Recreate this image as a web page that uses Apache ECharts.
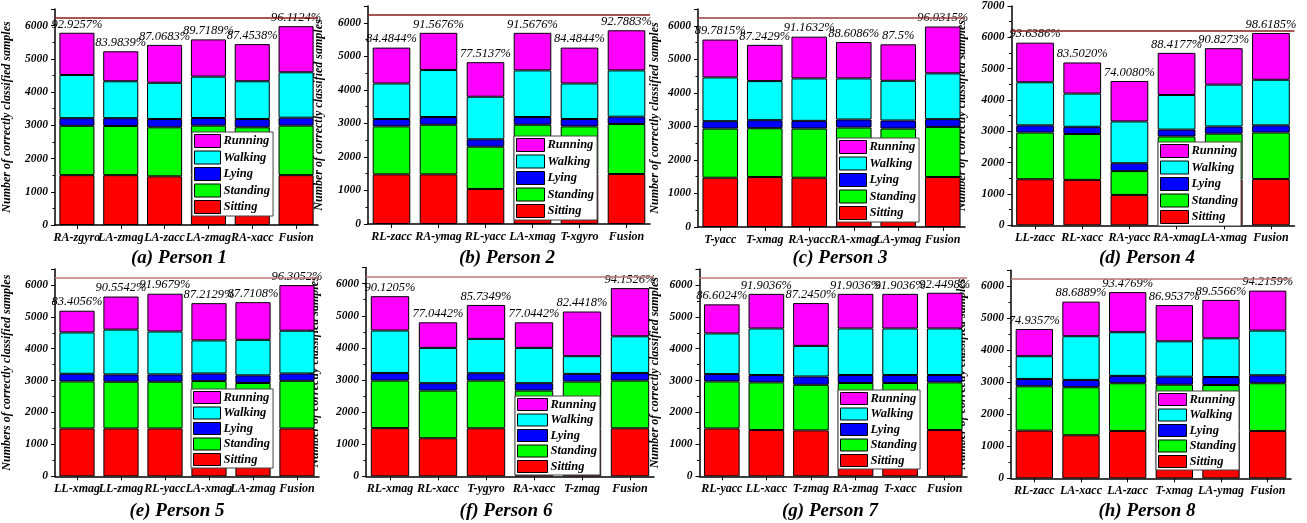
<!DOCTYPE html>
<html>
<head>
<meta charset="utf-8">
<script src="https://cdn.jsdelivr.net/npm/echarts@6/dist/echarts.min.js"></script>
<style>
  html, body { margin: 0; padding: 0; background: #fff; }
  #chart { width: 1307px; height: 523px; }
</style>
</head>
<body>
<div id="chart"></div>
<script>
// Activity classes, bottom of each stack first
const classNames = ['Sitting', 'Standing', 'Lying', 'Walking', 'Running'];
const legendOrder = ['Running', 'Walking', 'Lying', 'Standing', 'Sitting'];

const panelTitles = ['(a) Person 1', '(b) Person 2', '(c) Person 3', '(d) Person 4',
                     '(e) Person 5', '(f) Person 6', '(g) Person 7', '(h) Person 8'];

const yAxisNames = [
  'Number of correctly classified samples', 'Number of correctly classified samples',
  'Number of correctly classified samples', 'Number of correctly classified samples',
  'Numbers of correctly classified samples', 'Number of correctly classified samples',
  'Number of correctly classified samples', 'Number of correctly classified samples'
];

// Sensor channel used for each bar, per person
const sensorLabels = [
  ['RA-zgyro', 'LA-zmag', 'LA-zacc', 'LA-zmag', 'RA-xacc', 'Fusion'],
  ['RL-zacc', 'RA-ymag', 'RL-yacc', 'LA-xmag', 'T-xgyro', 'Fusion'],
  ['T-yacc', 'T-xmag', 'RA-yacc', 'RA-xmag', 'LA-ymag', 'Fusion'],
  ['LL-zacc', 'RL-xacc', 'RA-yacc', 'RA-xmag', 'LA-xmag', 'Fusion'],
  ['LL-xmag', 'LL-zmag', 'RL-yacc', 'LA-xmag', 'LA-zmag', 'Fusion'],
  ['RL-xmag', 'RL-xacc', 'T-ygyro', 'RA-xacc', 'T-zmag', 'Fusion'],
  ['RL-yacc', 'LL-xacc', 'T-zmag', 'RA-zmag', 'T-xacc', 'Fusion'],
  ['RL-zacc', 'LA-xacc', 'LA-zacc', 'T-xmag', 'LA-ymag', 'Fusion']
];

// Overall accuracy printed above each bar
const accuracyLabels = [
  ['92.9257%', '83.9839%', '87.0683%', '89.7189%', '87.4538%', '96.1124%'],
  ['84.4844%', '91.5676%', '77.5137%', '91.5676%', '84.4844%', '92.7883%'],
  ['89.7815%', '87.2429%', '91.1632%', '88.6086%', '87.5%', '96.0315%'],
  ['93.6386%', '83.5020%', '74.0080%', '88.4177%', '90.8273%', '98.6185%'],
  ['83.4056%', '90.5542%', '91.9679%', '87.2129%', '87.7108%', '96.3052%'],
  ['90.1205%', '77.0442%', '85.7349%', '77.0442%', '82.4418%', '94.1526%'],
  ['86.6024%', '91.9036%', '87.2450%', '91.9036%', '91.9036%', '92.4498%'],
  ['74.9357%', '88.6889%', '93.4769%', '86.9537%', '89.5566%', '94.2159%']
];

// Correctly classified samples per class (rows = persons, columns = bars)
const sitting = [
  [1500, 1500, 1465, 1500, 1480, 1500],
  [1480, 1480, 1045, 1480, 1480, 1490],
  [1470, 1490, 1470, 1490, 1470, 1490],
  [1470, 1450, 970, 1450, 1460, 1480],
  [1500, 1500, 1500, 1500, 1500, 1500],
  [1500, 1185, 1495, 1185, 1480, 1495],
  [1500, 1450, 1440, 1450, 1450, 1450],
  [1490, 1345, 1480, 1480, 1480, 1480]
];
const standing = [
  [1485, 1480, 1475, 1490, 1460, 1490],
  [1430, 1480, 1260, 1480, 1430, 1490],
  [1465, 1455, 1465, 1475, 1465, 1495],
  [1490, 1465, 760, 1385, 1465, 1480],
  [1475, 1465, 1465, 1485, 1425, 1495],
  [1480, 1485, 1485, 1485, 1470, 1485],
  [1475, 1495, 1430, 1475, 1475, 1495],
  [1385, 1500, 1490, 1445, 1435, 1490]
];
const lying = [
  [230, 235, 250, 230, 250, 240],
  [220, 230, 220, 230, 220, 220],
  [220, 240, 230, 240, 240, 230],
  [230, 230, 250, 220, 230, 230],
  [240, 230, 230, 240, 240, 230],
  [240, 230, 230, 230, 240, 240],
  [230, 230, 260, 250, 250, 230],
  [230, 230, 230, 250, 250, 250]
];
const walking = [
  [1300, 1110, 1090, 1245, 1135, 1365],
  [1060, 1400, 1270, 1390, 1060, 1380],
  [1305, 1165, 1265, 1225, 1185, 1365],
  [1375, 1060, 1335, 1105, 1335, 1455],
  [1295, 1405, 1345, 1035, 1115, 1340],
  [1320, 1100, 1070, 1100, 550, 1140],
  [1275, 1460, 960, 1460, 1460, 1460],
  [710, 1365, 1365, 1105, 1210, 1395]
];
const running = [
  [1270, 903, 1140, 1120, 1119, 1388],
  [1069, 1110, 1030, 1120, 1069, 1196],
  [1129, 1081, 1245, 1086, 1087, 1398],
  [1264, 993, 1292, 1344, 1164, 1494],
  [682, 1037, 1185, 1169, 1180, 1430],
  [1070, 796, 1057, 796, 1392, 1501],
  [911, 1086, 1341, 1086, 1086, 1120],
  [850, 1081, 1254, 1133, 1200, 1250]
];

// Total number of test samples per person (reference line)
const totalSamples = 6225;

const classValues = [sitting, standing, lying, walking, running];
const classColors = ['#ff0000', '#00ff00', '#0000ff', '#00ffff', '#ff00ff'];

// Panel placement on the page
const panels = [
  { grid: { left: 52, top: 9, width: 266, height: 216 }, max: 6500, nameGap: 42, legend: [192, 132], iw: 26, ih: 13, title: [179, 258], line: '#8e1b1b' },
  { grid: { left: 368, top: 6, width: 282, height: 218 }, max: 6500, nameGap: 43, legend: [514, 136], iw: 28, ih: 13, title: [507, 258], line: '#8e1b1b' },
  { grid: { left: 698, top: 9, width: 267, height: 218 }, max: 6500, nameGap: 37, legend: [837, 138], iw: 27, ih: 13, title: [840, 258], line: '#9b3a3a' },
  { grid: { left: 1011.5, top: 1.3, width: 283, height: 224 }, max: 7000, nameGap: 44, legend: [1158, 142], iw: 28, ih: 13, title: [1147, 258], line: '#8e1b1b' },
  { grid: { left: 52, top: 269, width: 267, height: 207.3 }, max: 6500, nameGap: 42, legend: [191, 389], iw: 27, ih: 12, title: [177, 511], line: '#c07474' },
  { grid: { left: 366, top: 267.6, width: 288, height: 208.7 }, max: 6500, nameGap: 45, legend: [515, 396], iw: 30, ih: 12, title: [506, 511], line: '#c07474' },
  { grid: { left: 699.5, top: 269, width: 267.5, height: 207.3 }, max: 6500, nameGap: 39, legend: [838, 390], iw: 27, ih: 12, title: [830, 511], line: '#c07474' },
  { grid: { left: 1011, top: 270.3, width: 280, height: 208 }, max: 6500, nameGap: 43, legend: [1156, 391], iw: 28, ih: 12, title: [1147, 511], line: '#c07474' }
];

const serif = "'Liberation Serif', 'Times New Roman', serif";

const grids = [], xAxes = [], yAxes = [], series = [], legends = [], graphics = [];

panels.forEach((pl, p) => {
  grids.push(Object.assign({ containLabel: false }, pl.grid));

  xAxes.push({
    type: 'category',
    gridIndex: p,
    data: sensorLabels[p],
    axisLine: { show: true, lineStyle: { color: '#000', width: 1.5 } },
    axisTick: { show: true, alignWithLabel: true, length: 4, lineStyle: { color: '#000' } },
    axisLabel: {
      interval: 0, margin: 7, color: '#000',
      fontFamily: serif, fontStyle: 'italic', fontWeight: 'bold', fontSize: 12
    },
    splitLine: { show: false }
  });

  yAxes.push({
    type: 'value',
    gridIndex: p,
    min: 0,
    max: pl.max,
    interval: 1000,
    name: yAxisNames[p],
    nameLocation: 'middle',
    nameRotate: 90,
    nameGap: pl.nameGap,
    nameTextStyle: { fontFamily: serif, fontStyle: 'italic', fontWeight: 'bold', fontSize: 12, color: '#000' },
    axisLine: { show: true, lineStyle: { color: '#000', width: 1.5 } },
    axisTick: { show: true, length: 4, lineStyle: { color: '#000' } },
    minorTick: { show: true, splitNumber: 2, length: 2.5, lineStyle: { color: '#000' } },
    axisLabel: {
      margin: 7, color: '#000', showMaxLabel: pl.max === 7000,
      formatter: (v) => String(v),
      fontFamily: serif, fontStyle: 'italic', fontWeight: 'bold', fontSize: 11.5
    },
    splitLine: { show: false }
  });

  classNames.forEach((cls, c) => {
    const s = {
      type: 'bar',
      name: cls,
      stack: 'person' + p,
      xAxisIndex: p,
      yAxisIndex: p,
      barCategoryGap: '20%',
      data: classValues[c][p],
      itemStyle: { color: classColors[c], borderColor: '#000', borderWidth: 1 }
    };
    if (cls === 'Running') {
      s.label = {
        show: true,
        position: 'top',
        distance: 2,
        formatter: (prm) => accuracyLabels[p][prm.dataIndex],
        fontFamily: serif, fontStyle: 'italic', fontSize: 12.5, color: '#000'
      };
      s.markLine = {
        silent: true,
        symbol: 'none',
        label: { show: false },
        lineStyle: { color: pl.line, width: 1.5, type: 'solid' },
        data: [{ yAxis: totalSamples }]
      };
    }
    series.push(s);
  });

  legends.push({
    orient: 'vertical',
    left: pl.legend[0],
    top: pl.legend[1],
    data: legendOrder,
    icon: 'rect',
    itemWidth: pl.iw,
    itemHeight: pl.ih,
    itemGap: 2.5,
    padding: [2, 3, 2, 2],
    backgroundColor: '#fff',
    borderColor: '#444',
    borderWidth: 1,
    selectedMode: false,
    itemStyle: { borderColor: '#000', borderWidth: 1 },
    textStyle: { fontFamily: serif, fontStyle: 'italic', fontWeight: 'bold', fontSize: 12.5, color: '#000', padding: [0, 0, 0, -2] }
  });

  graphics.push({
    type: 'text',
    x: pl.title[0],
    y: pl.title[1],
    style: {
      text: panelTitles[p],
      align: 'center',
      verticalAlign: 'middle',
      fontFamily: serif,
      fontStyle: 'italic',
      fontWeight: 'bold',
      fontSize: 19,
      fill: '#000'
    }
  });
});

const chart = echarts.init(document.getElementById('chart'), null, { renderer: 'canvas' });
chart.setOption({
  animation: false,
  backgroundColor: '#fff',
  grid: grids,
  xAxis: xAxes,
  yAxis: yAxes,
  legend: legends,
  series: series,
  graphic: graphics
});
</script>
</body>
</html>
